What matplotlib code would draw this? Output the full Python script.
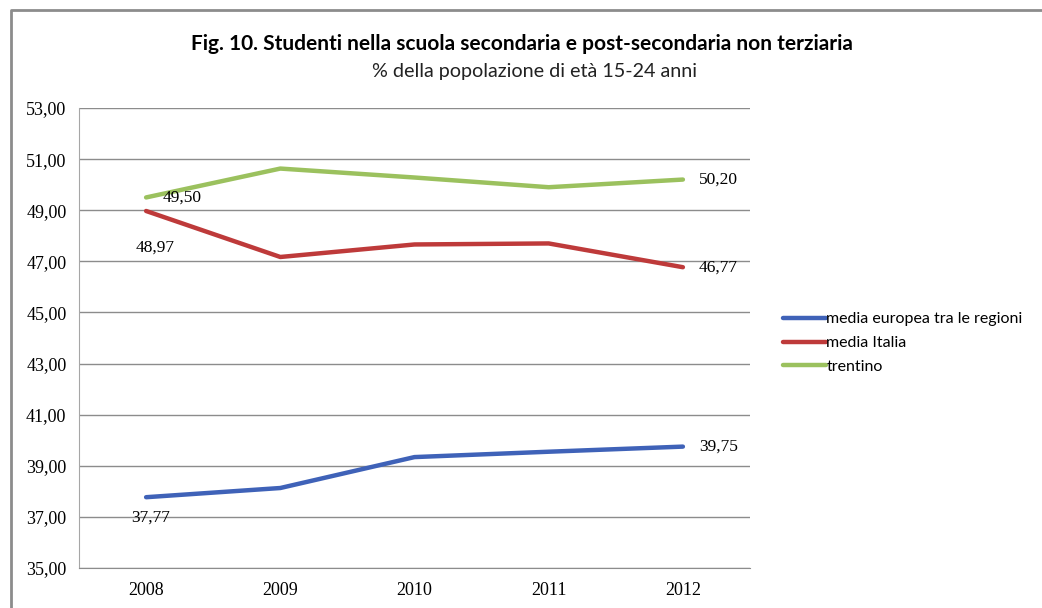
import matplotlib
matplotlib.use("Agg")
import matplotlib.pyplot as plt
from matplotlib.lines import Line2D

years = ["2008", "2009", "2010", "2011", "2012"]
media_europea = [37.77, 38.13, 39.34, 39.55, 39.75]
media_italia = [48.97, 47.17, 47.66, 47.70, 46.77]
trentino = [49.50, 50.63, 50.28, 49.90, 50.20]
series_names = ["media europea tra le regioni", "media Italia", "trentino"]
y_ticks = [35, 37, 39, 41, 43, 45, 47, 49, 51, 53]

colors = ["#3F62B8", "#BE3A3A", "#9BC15E"]
tick_font = "Liberation Serif"
label_font = "Liberation Serif"
text_font = ["Lato", "DejaVu Sans"]

fig = plt.figure(figsize=(10.42, 6.08), dpi=100)
fig.patch.set_facecolor("white")

# outer chart frame (left and top edges)
fx, fy = 10.5 / 1042, 1 - 10 / 608
fig.add_artist(Line2D([fx, fx, 1.0], [0.0, fy, fy], transform=fig.transFigure,
                      color="#8c8c8c", linewidth=2.0))

ax = fig.add_axes([79 / 1042, 1 - 568 / 608, 671 / 1042, 460 / 608])
x = list(range(len(years)))
lines = []
for vals, c, name in zip([media_europea, media_italia, trentino], colors, series_names):
    ln, = ax.plot(x, vals, color=c, linewidth=3.2, solid_capstyle="round", label=name)
    lines.append(ln)

ax.set_xlim(-0.5, len(years) - 0.5)
ax.set_ylim(35, 53)
ax.set_yticks(y_ticks)
ax.set_yticklabels([f"{v:.2f}".replace(".", ",") for v in y_ticks],
                   fontfamily=tick_font, fontsize=13)
ax.set_xticks(x)
ax.set_xticklabels(years, fontfamily=tick_font, fontsize=13)
ax.tick_params(axis="y", length=0, pad=9)
ax.tick_params(axis="x", length=0, pad=10)
ax.grid(axis="y", color="#8c8c8c", linewidth=1.0)
ax.set_axisbelow(True)
for s in ["right", "top"]:
    ax.spines[s].set_visible(False)
ax.spines["bottom"].set_color("#8c8c8c")
ax.spines["left"].set_color("#a6a6a6")

def fmt(v):
    return f"{v:.2f}".replace(".", ",")

lab = dict(textcoords="offset points", fontfamily=label_font, fontsize=12.5, va="center")
# value labels at first and last year
ax.annotate(fmt(trentino[0]), (x[0], trentino[0]), xytext=(12, 0), ha="left", **lab)
ax.annotate(fmt(media_italia[0]), (x[0], media_italia[0]), xytext=(6.5, -26.5), ha="center", **lab)
ax.annotate(fmt(media_europea[0]), (x[0], media_europea[0]), xytext=(3.5, -15), ha="center", **lab)
for vals in [trentino, media_italia, media_europea]:
    ax.annotate(fmt(vals[-1]), (x[-1], vals[-1]), xytext=(11.5, 0), ha="left", **lab)

fig.text(522 / 1042, 1 - 44 / 608, "Fig. 10. Studenti nella scuola secondaria e post-secondaria non terziaria",
         ha="center", va="center", fontsize=15, fontweight="bold", fontfamily=text_font)
fig.text(535 / 1042, 1 - 72 / 608, "% della popolazione di età 15-24 anni",
         ha="center", va="center", fontsize=14.2, fontfamily=text_font, color="#222222")

leg = fig.legend(handles=lines, loc="center left", bbox_to_anchor=(769 / 1042, 1 - 343 / 608),
                 frameon=False, handlelength=2.7, handletextpad=0.0, labelspacing=0.6,
                 prop={"family": text_font, "size": 11.5})

fig.savefig("out.png", dpi=100, facecolor="white")
